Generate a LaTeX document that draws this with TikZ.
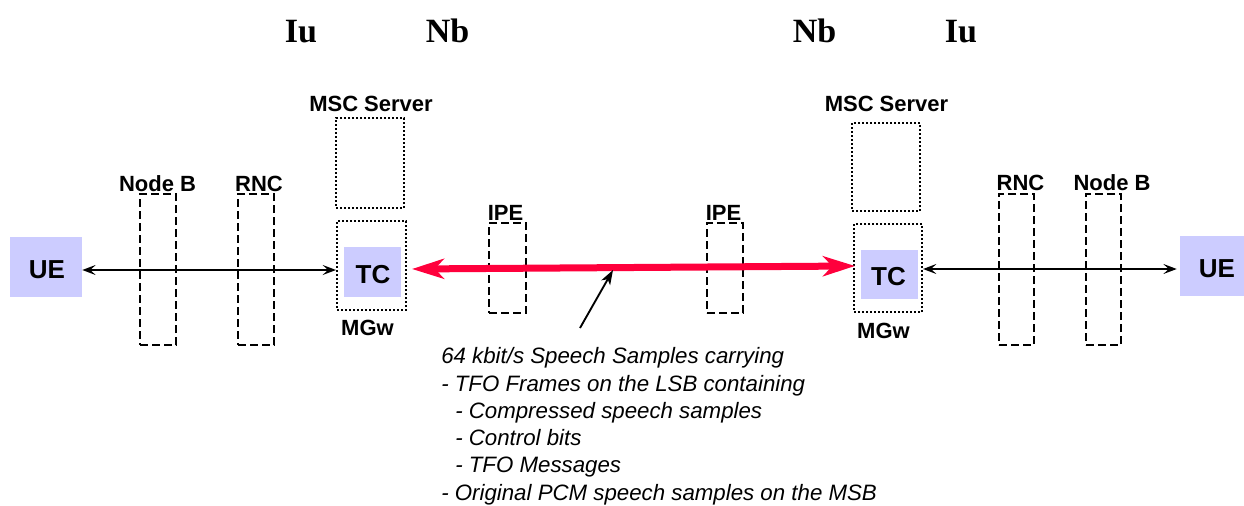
\documentclass[tikz,border=0pt]{standalone}
\usepackage{fontspec}
\setmainfont{Liberation Sans}
\newfontfamily\tnr{Liberation Serif}
\usetikzlibrary{arrows.meta,fit,calc}
\definecolor{lav}{RGB}{204,204,255}
\definecolor{tfored}{RGB}{255,0,60}
\begin{document}
\begin{tikzpicture}[x=0.75pt,y=-0.75pt,
  dbox/.style={draw, line width=1.6pt, dash pattern=on 6pt off 3pt, inner sep=0pt},
  obox/.style={draw, line width=1.5pt, dash pattern=on 1.5pt off 1.5pt, inner sep=0pt},
  fbox/.style={fill=lav, inner sep=0pt},
  lbl/.style={font=\bfseries\fontsize{16.5}{20}\selectfont, anchor=base, inner sep=0pt},
  big/.style={font=\bfseries\fontsize{19.5}{22}\selectfont, anchor=base, inner sep=0pt},
  iface/.style={font=\tnr\bfseries\fontsize{25.5}{28}\selectfont, anchor=base, inner sep=0pt},
  note/.style={font=\itshape\fontsize{16.7}{20}\selectfont, anchor=base west, inner sep=0pt},
  blk/.style={line width=1.3pt, {Stealth[length=10pt,width=7.5pt,inset=4pt]}-{Stealth[length=10pt,width=7.5pt,inset=4pt]}},
  ptr/.style={line width=1.4pt, -{Stealth[length=11pt,width=7.5pt,inset=3pt]}},
  redarr/.style={draw=tfored, line width=5.25pt, {Stealth[length=24pt,width=15pt,inset=7pt]}-{Stealth[length=24pt,width=15pt,inset=7pt]}}
]
\useasboundingbox (0,0) rectangle (1244,506);

% interface labels
\node[iface] (iu1) at (301,43) {Iu};
\node[iface] (nb1) at (447.5,43) {Nb};
\node[iface] (nb2) at (814.5,43) {Nb};
\node[iface] (iu2) at (961,43) {Iu};

% filled boxes
\node[fbox, fit={(10,237)(82,297)}] (ue1) {};
\node[fbox, fit={(344,247)(401,297)}] (tc1) {};
\node[fbox, fit={(861,250)(918,299)}] (tc2) {};
\node[fbox, fit={(1180,236)(1244,296)}] (ue2) {};
\node[big] (ue1t) at (47,278) {UE};
\node[big] (tc1t) at (373,283) {TC};
\node[big] (tc2t) at (888.5,285) {TC};
\node[big] (ue2t) at (1217,277) {UE};

% dashed boxes
\node[dbox, fit={(140,194)(176,345)}] (nodeb1) {};
\node[dbox, fit={(238,194)(274,345)}] (rnc1) {};
\node[dbox, fit={(489,223)(526,313)}] (ipe1) {};
\node[dbox, fit={(707,223)(743,313)}] (ipe2) {};
\node[dbox, fit={(999,194)(1034,345)}] (rnc2) {};
\node[dbox, fit={(1086,194)(1121,345)}] (nodeb2) {};

% dotted boxes
\node[obox, fit={(336,118)(404,208)}] (msc1) {};
\node[obox, fit={(337,221)(406,310)}] (mgw1) {};
\node[obox, fit={(852,123)(920,211)}] (msc2) {};
\node[obox, fit={(854,224)(922,312)}] (mgw2) {};

% labels
\node[lbl] (nodeb1l) at (157.5,191) {Node B};
\node[lbl] (rnc1l) at (259,191) {RNC};
\node[lbl] (msc1l) at (371,112) {MSC Server};
\node[lbl] (mgw1l) at (367.5,335) {MGw};
\node[lbl] (ipe1l) at (505.5,220) {IPE};
\node[lbl] (ipe2l) at (723.5,220) {IPE};
\node[lbl] (msc2l) at (886.5,112) {MSC Server};
\node[lbl] (mgw2l) at (883.5,338) {MGw};
\node[lbl] (rnc2l) at (1020.5,190) {RNC};
\node[lbl] (nodeb2l) at (1112,190) {Node B};

% black arrows
\draw[blk] (ue1.east |- 0,270) -- (mgw1.west |- 0,270);
\draw[blk] (mgw2.east |- 0,269) -- ([xshift=-2.25pt]ue2.west |- 0,269);

% red arrow
\coordinate (r1) at (412,269);
\coordinate (r2) at (855,266);
\draw[redarr] (r1) -- (r2);

% pointer
\coordinate (p0) at (580,328);
\coordinate (p1) at (613,270);
\draw[ptr] (p0) -- (p1);

% note text
\node[note] (t1) at (441,363) {64 kbit/s Speech Samples carrying};
\node[note] (t2) at (441,391) {- TFO Frames on the LSB containing};
\node[note] (t3) at (455,418) {- Compressed speech samples};
\node[note] (t4) at (455,445) {- Control bits};
\node[note] (t5) at (455,472) {- TFO Messages};
\node[note] (t6) at (441,500) {- Original PCM speech samples on the MSB};
\end{tikzpicture}
\end{document}
